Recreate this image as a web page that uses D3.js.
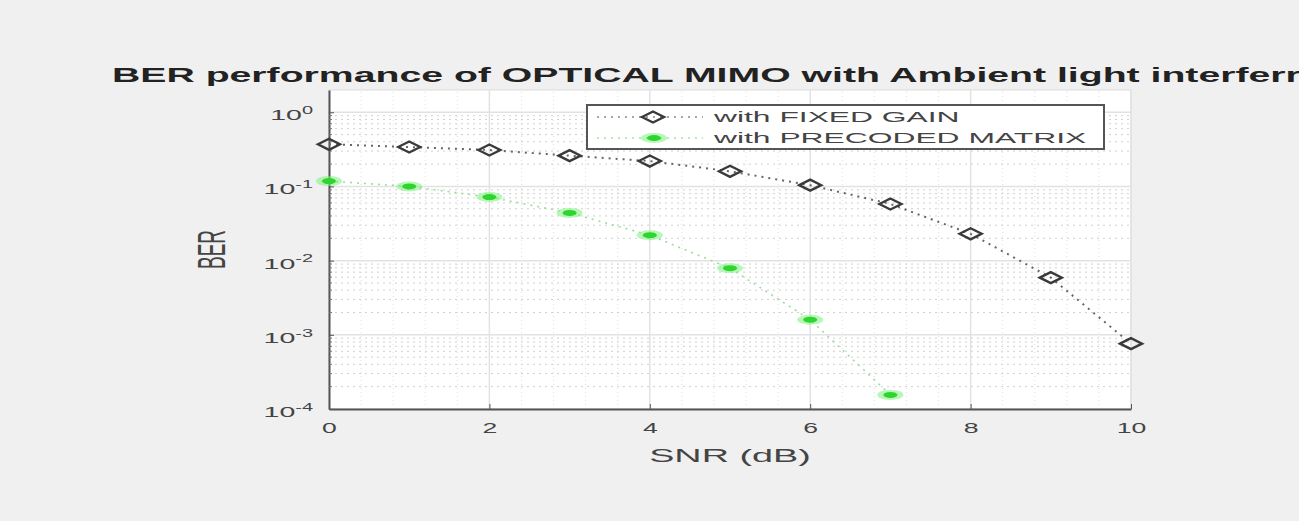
<!DOCTYPE html>
<html>
<head>
<meta charset="utf-8">
<script src="https://cdn.jsdelivr.net/npm/d3@7"></script>
<style>
body { margin: 0; background: #f0f0f0; }
svg { display: block; }
text { font-family: "Liberation Sans", Arial, sans-serif; }
</style>
</head>
<body>
<svg id="chart" width="1299" height="521"></svg>
<script>
var snr = [0, 1, 2, 3, 4, 5, 6, 7, 8, 9, 10];
var berFixedGain = [0.37, 0.34, 0.31, 0.26, 0.22, 0.16, 0.104, 0.058, 0.023, 0.0059, 0.00076];
var snrPrecoded = [0, 1, 2, 3, 4, 5, 6, 7];
var berPrecoded = [0.118, 0.1, 0.072, 0.044, 0.022, 0.0079, 0.0016, 0.000155];
var xTicks = [0, 2, 4, 6, 8, 10];
var yTickExps = [0, -1, -2, -3, -4];
var legendLabels = ["with FIXED GAIN", "with PRECODED MATRIX"];

// the picture is stretched sideways, so text is widened the same way
var SX = 1.9;

var svg = d3.select("#chart");
var margin = {left: 329, right: 168, top: 90, bottom: 112};
var W = 1299, H = 521;

var x = d3.scaleLinear().domain([0, 10]).range([margin.left, W - margin.right]);
var y = d3.scaleLog().domain([1e-4, Math.pow(10, 0.3)]).range([H - margin.bottom, margin.top]);

// plot background
svg.append("rect")
	.attr("x", x(0)).attr("y", y.range()[1])
	.attr("width", x(10) - x(0)).attr("height", y.range()[0] - y.range()[1])
	.attr("fill", "#fff")
	.attr("stroke", "#dcdcdc");

var grid = svg.append("g");

// minor grid, x
var xMinor = d3.range(0, 10.01, 0.4).filter(function(v) { return Math.abs(v / 2 - Math.round(v / 2)) > 1e-6; });
grid.selectAll("line.xminor").data(xMinor).enter().append("line")
	.attr("x1", function(d) { return x(d); }).attr("x2", function(d) { return x(d); })
	.attr("y1", y.range()[0]).attr("y2", y.range()[1])
	.attr("stroke", "#e0e0e0").attr("stroke-dasharray", "1,3");

// minor grid, y
var yMinor = [];
for (var e = -4; e <= 0; e++) {
	for (var m = 2; m <= 9; m++) {
		var v = m * Math.pow(10, e);
		if (v < y.domain()[1]) yMinor.push(v);
	}
}
grid.selectAll("line.yminor").data(yMinor).enter().append("line")
	.attr("x1", x(0)).attr("x2", x(10))
	.attr("y1", function(d) { return y(d); }).attr("y2", function(d) { return y(d); })
	.attr("stroke", "#cfcfcf").attr("stroke-dasharray", "2,4");

// major grid
grid.selectAll("line.xmajor").data(xTicks).enter().append("line")
	.attr("x1", function(d) { return x(d); }).attr("x2", function(d) { return x(d); })
	.attr("y1", y.range()[0]).attr("y2", y.range()[1])
	.attr("stroke", "#e2e2e2").attr("stroke-width", 1.5);
grid.selectAll("line.ymajor").data(yTickExps).enter().append("line")
	.attr("x1", x(0)).attr("x2", x(10))
	.attr("y1", function(d) { return y(Math.pow(10, d)); }).attr("y2", function(d) { return y(Math.pow(10, d)); })
	.attr("stroke", "#e2e2e2").attr("stroke-width", 1.5);

// axes
var xAxis = svg.append("g")
	.attr("transform", "translate(0," + y.range()[0] + ")")
	.call(d3.axisBottom(x).tickValues(xTicks).tickSizeInner(-5).tickSizeOuter(0).tickPadding(14));
xAxis.select(".domain").attr("stroke", "#555").attr("stroke-width", 2);
xAxis.selectAll(".tick line").attr("stroke", "#555");
xAxis.selectAll(".tick text")
	.attr("font-size", 14).attr("fill", "#444")
	.attr("font-family", "Liberation Sans, Arial, sans-serif")
	.attr("transform", "scale(" + SX + ",1)");

var yAxis = svg.append("g")
	.attr("transform", "translate(" + x(0) + ",0)")
	.call(d3.axisLeft(y).tickValues(yTickExps.map(function(e) { return Math.pow(10, e); }))
		.tickFormat(function() { return ""; }).tickSizeInner(-5).tickSizeOuter(0));
yAxis.select(".domain").attr("stroke", "#555").attr("stroke-width", 2);
yAxis.selectAll(".tick line").attr("stroke", "#555");
yAxis.selectAll("line.mtick").data(yMinor).enter().append("line")
	.attr("x1", 0).attr("x2", 3)
	.attr("y1", function(d) { return y(d); }).attr("y2", function(d) { return y(d); })
	.attr("stroke", "#777");
yAxis.selectAll(".tick").each(function(d) {
	var t = d3.select(this).append("text")
		.attr("x", -16 / SX).attr("dy", "0.5em")
		.attr("text-anchor", "end")
		.attr("transform", "scale(" + SX + ",1)")
		.attr("fill", "#444").attr("font-size", 15)
		.attr("font-family", "Liberation Sans, Arial, sans-serif");
	t.append("tspan").text("10");
	t.append("tspan").attr("font-size", 10.5).attr("dy", "-0.6em")
		.text(String(Math.round(Math.log10(d))));
});

// lines
var line = d3.line()
	.x(function(d) { return x(d[0]); })
	.y(function(d) { return y(d[1]); });

var fixedPts = d3.zip(snr, berFixedGain);
var precPts = d3.zip(snrPrecoded, berPrecoded);

svg.append("path").datum(fixedPts).attr("d", line)
	.attr("fill", "none").attr("stroke", "#666").attr("stroke-width", 2)
	.attr("stroke-dasharray", "2,5");
svg.append("path").datum(precPts).attr("d", line)
	.attr("fill", "none").attr("stroke", "#9ddc9d").attr("stroke-width", 1.6)
	.attr("stroke-dasharray", "2,5");

var diamond = function(g, cx, cy) {
	g.append("path")
		.attr("d", "M" + (cx - 11) + "," + cy + "L" + cx + "," + (cy - 5.5) + "L" + (cx + 11) + "," + cy + "L" + cx + "," + (cy + 5.5) + "Z")
		.attr("fill", "none").attr("stroke", "#3a3a3a").attr("stroke-width", 2.4);
};
var greenStar = function(g, cx, cy) {
	g.append("ellipse").attr("cx", cx).attr("cy", cy).attr("rx", 13).attr("ry", 5)
		.attr("fill", "#7cf07c").attr("opacity", 0.55);
	g.append("ellipse").attr("cx", cx).attr("cy", cy).attr("rx", 7).attr("ry", 3)
		.attr("fill", "#2fd42f");
};

var marks = svg.append("g");
fixedPts.forEach(function(p) { diamond(marks, x(p[0]), y(p[1])); });
precPts.forEach(function(p) { greenStar(marks, x(p[0]), y(p[1])); });

// legend
var lg = svg.append("g").attr("transform", "translate(587,105)");
lg.append("rect").attr("width", 517).attr("height", 44)
	.attr("fill", "#fff").attr("stroke", "#555").attr("stroke-width", 2);
[0, 1].forEach(function(i) {
	var yy = 12 + i * 21;
	lg.append("line").attr("x1", 10).attr("x2", 116).attr("y1", yy).attr("y2", yy)
		.attr("stroke", i === 0 ? "#888" : "#a8e4a8").attr("stroke-width", 1.4)
		.attr("stroke-dasharray", "2,5");
	if (i === 0) diamond(lg, 66, yy); else greenStar(lg, 67, yy);
	lg.append("text")
		.attr("transform", "translate(127," + yy + ") scale(2.12,1)")
		.attr("dy", "0.36em")
		.attr("font-size", 15).attr("fill", "#444").text(legendLabels[i]);
});

// labels (the title runs past the right edge, as in the original)
svg.append("text")
	.attr("transform", "translate(112,82) scale(1.96,1)")
	.attr("font-size", 20).attr("font-weight", "bold").attr("fill", "#222")
	.text("BER performance of OPTICAL MIMO with Ambient light interferrence");

svg.append("text")
	.attr("transform", "translate(" + x(5) + ",462) scale(2.1,1)")
	.attr("text-anchor", "middle").attr("font-size", 18).attr("fill", "#444")
	.text("SNR (dB)");

svg.append("text")
	.attr("transform", "translate(225," + y(Math.pow(10, -1.85)) + ") scale(2,1) rotate(-90)")
	.attr("text-anchor", "middle").attr("font-size", 19).attr("fill", "#444")
	.text("BER");
</script>
</body>
</html>
